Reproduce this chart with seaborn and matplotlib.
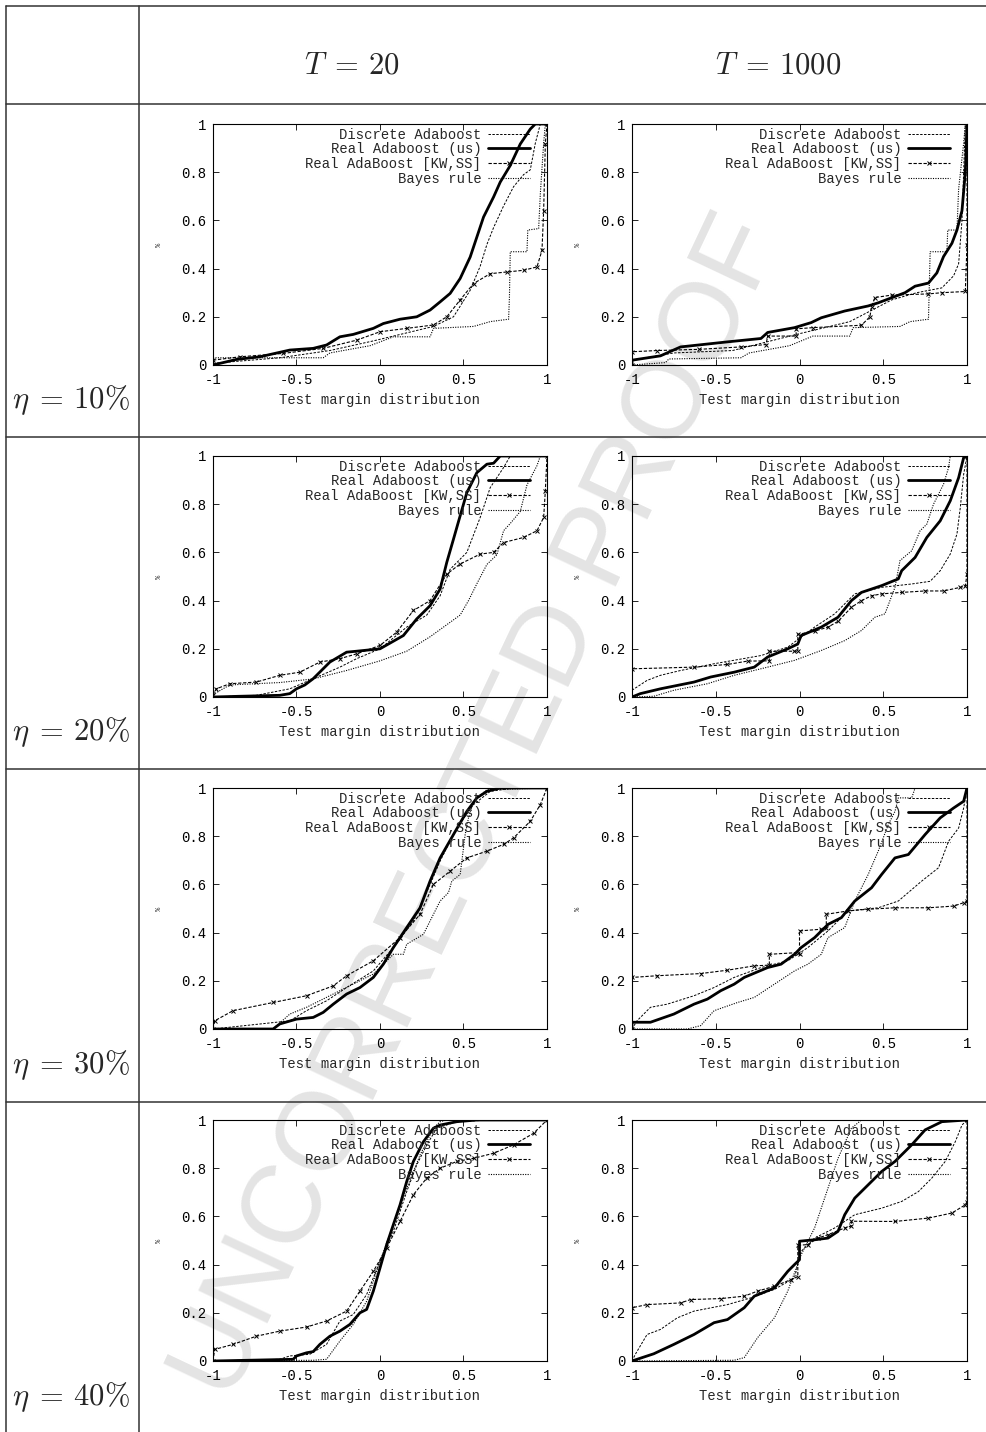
import numpy as np
import pandas as pd
import matplotlib
matplotlib.use('Agg')
import matplotlib.pyplot as plt
from matplotlib.lines import Line2D
import seaborn as sns

# Breakpoints (margin, cumulative fraction).
# naming: <curve><T>_<noise>; d = Discrete Adaboost, r = Real Adaboost (us),
# k = Real AdaBoost [KW,SS], b = Bayes rule

# T = 20, eta = 10%
d20_10 = [(-1, 0.007), (-0.6, 0.03), (-0.3, 0.06), (-0.04, 0.10), (0.2, 0.14), (0.32, 0.16), (0.44, 0.2),
          (0.54, 0.31), (0.60, 0.41), (0.64, 0.50), (0.68, 0.57), (0.74, 0.66), (0.80, 0.74), (0.86, 0.79),
          (0.90, 0.81), (0.93, 0.92), (0.96, 1.0), (1, 1)]
r20_10 = [(-1, 0), (-0.86, 0.023), (-0.72, 0.034), (-0.54, 0.062), (-0.40, 0.069), (-0.32, 0.083), (-0.24, 0.117),
          (-0.16, 0.127), (-0.04, 0.152), (0.02, 0.172), (0.12, 0.19), (0.22, 0.2), (0.30, 0.228), (0.36, 0.262),
          (0.42, 0.297), (0.48, 0.359), (0.54, 0.448), (0.58, 0.531), (0.62, 0.614), (0.68, 0.697), (0.72, 0.759),
          (0.78, 0.828), (0.84, 0.917), (0.90, 0.979), (0.93, 1.0), (1, 1)]
k20_10 = [(-1, 0.02), (-0.84, 0.034), (-0.58, 0.048), (-0.34, 0.069), (-0.14, 0.103), (0, 0.138), (0.16, 0.152),
          (0.32, 0.166), (0.40, 0.20), (0.48, 0.27), (0.56, 0.338), (0.66, 0.379), (0.76, 0.386), (0.86, 0.393),
          (0.94, 0.407), (0.97, 0.476), (0.98, 0.641), (0.99, 0.917), (1, 1)]
b20_10 = [(-1, 0.03), (-0.34, 0.03), (-0.3, 0.05), (-0.06, 0.08), (0.08, 0.117), (0.3, 0.117), (0.32, 0.152),
          (0.56, 0.16), (0.66, 0.18), (0.77, 0.19), (0.775, 0.28), (0.78, 0.47), (0.88, 0.47), (0.885, 0.56),
          (0.95, 0.566), (0.96, 0.71), (0.98, 0.92), (0.99, 1), (1, 1)]

# T = 1000, eta = 10%
d1k_10 = [(-1, 0.02), (-0.75, 0.05), (-0.4, 0.06), (0, 0.13), (0.3, 0.18), (0.55, 0.27), (0.7, 0.3), (0.85, 0.32),
          (0.92, 0.37), (0.95, 0.42), (0.97, 0.6), (0.98, 0.8), (0.99, 1), (1, 1)]
r1k_10 = [(-1, 0), (-1, 0.02), (-0.83, 0.038), (-0.71, 0.075), (-0.43, 0.096), (-0.23, 0.11), (-0.19, 0.135),
          (-0.03, 0.155), (0.07, 0.176), (0.13, 0.196), (0.27, 0.224), (0.41, 0.245), (0.47, 0.258), (0.55, 0.279),
          (0.63, 0.30), (0.69, 0.327), (0.77, 0.34), (0.82, 0.382), (0.86, 0.45), (0.91, 0.505), (0.94, 0.56),
          (0.97, 0.64), (0.99, 0.8), (1, 1)]
k1k_10 = [(-1, 0), (-1, 0.055), (-0.85, 0.06), (-0.6, 0.065), (-0.35, 0.075), (-0.2, 0.085), (-0.19, 0.12),
          (-0.02, 0.12), (-0.02, 0.15), (0.08, 0.155), (0.37, 0.165), (0.42, 0.2), (0.43, 0.24), (0.45, 0.28),
          (0.55, 0.29), (0.77, 0.295), (0.85, 0.30), (0.99, 0.305), (1, 0.5), (1, 1)]
b1k_10 = [(-1, 0), (-0.8, 0.01), (-0.78, 0.025), (-0.35, 0.03), (-0.3, 0.05), (-0.06, 0.08), (0.08, 0.12),
          (0.3, 0.12), (0.32, 0.155), (0.6, 0.16), (0.66, 0.18), (0.77, 0.19), (0.78, 0.47), (0.88, 0.47),
          (0.885, 0.56), (0.94, 0.56), (0.95, 0.73), (0.98, 0.92), (0.99, 1), (1, 1)]

# T = 20, eta = 20%
d20_20 = [(-1, 0), (-0.74, 0.007), (-0.54, 0.034), (-0.4, 0.076), (-0.24, 0.124), (-0.14, 0.159), (0, 0.2),
          (0.16, 0.29), (0.28, 0.34), (0.36, 0.42), (0.42, 0.53), (0.52, 0.6), (0.6, 0.745), (0.66, 0.869),
          (0.74, 0.952), (0.78, 1.0), (1, 1)]
r20_20 = [(-1, 0), (-0.84, 0.003), (-0.6, 0.007), (-0.54, 0.014), (-0.5, 0.034), (-0.45, 0.05), (-0.40, 0.076),
          (-0.30, 0.145), (-0.20, 0.186), (-0.14, 0.19), (0.0, 0.2), (0.14, 0.255), (0.22, 0.324), (0.30, 0.379),
          (0.36, 0.448), (0.40, 0.559), (0.44, 0.655), (0.48, 0.752), (0.52, 0.848), (0.58, 0.931), (0.64, 0.966),
          (0.68, 0.97), (0.72, 1.0), (1, 1)]
k20_20 = [(-1, 0.007), (-0.98, 0.034), (-0.9, 0.055), (-0.74, 0.062), (-0.6, 0.09), (-0.48, 0.103), (-0.36, 0.145),
          (-0.24, 0.159), (-0.14, 0.179), (0, 0.214), (0.1, 0.269), (0.2, 0.359), (0.3, 0.4), (0.4, 0.51),
          (0.48, 0.552), (0.6, 0.593), (0.68, 0.6), (0.74, 0.641), (0.86, 0.662), (0.94, 0.69), (0.98, 0.745),
          (0.99, 0.855), (1, 1)]
b20_20 = [(-1, 0.01), (-0.9, 0.05), (-0.6, 0.06), (-0.4, 0.075), (-0.2, 0.11), (0, 0.15), (0.16, 0.19), (0.3, 0.25),
          (0.4, 0.30), (0.48, 0.34), (0.53, 0.4), (0.58, 0.47), (0.64, 0.55), (0.7, 0.59), (0.74, 0.69), (0.78, 0.72),
          (0.84, 0.77), (0.88, 0.88), (0.94, 0.96), (0.96, 1.0), (1, 1)]

# T = 1000, eta = 20%
d1k_20 = [(-1, 0.028), (-0.91, 0.069), (-0.83, 0.09), (-0.71, 0.11), (-0.51, 0.138), (-0.23, 0.172), (-0.07, 0.207),
          (0.09, 0.29), (0.21, 0.345), (0.33, 0.428), (0.49, 0.455), (0.67, 0.469), (0.78, 0.48), (0.84, 0.524),
          (0.9, 0.593), (0.94, 0.676), (0.96, 0.786), (0.98, 0.924), (1, 1)]
r1k_20 = [(-1, 0), (-0.95, 0.014), (-0.83, 0.034), (-0.63, 0.062), (-0.53, 0.083), (-0.39, 0.103), (-0.27, 0.124),
          (-0.19, 0.166), (-0.07, 0.2), (-0.01, 0.22), (0.01, 0.255), (0.13, 0.29), (0.23, 0.331), (0.31, 0.4),
          (0.37, 0.434), (0.49, 0.462), (0.59, 0.49), (0.61, 0.524), (0.69, 0.579), (0.76, 0.662), (0.84, 0.731),
          (0.9, 0.814), (0.95, 0.91), (0.98, 0.993), (1, 1)]
k1k_20 = [(-1, 0), (-1, 0.117), (-0.63, 0.124), (-0.43, 0.135), (-0.31, 0.149), (-0.18, 0.15), (-0.18, 0.19),
          (-0.03, 0.19), (-0.01, 0.19), (-0.01, 0.26), (0.09, 0.273), (0.17, 0.29), (0.23, 0.314), (0.31, 0.372),
          (0.37, 0.4), (0.43, 0.42), (0.49, 0.428), (0.61, 0.434), (0.75, 0.44), (0.86, 0.44), (0.96, 0.455),
          (0.99, 0.46), (1, 0.51), (1, 1)]
b1k_20 = [(-1, 0), (-0.87, 0.003), (-0.75, 0.028), (-0.55, 0.055), (-0.39, 0.09), (-0.19, 0.124), (-0.03, 0.152),
          (0.13, 0.193), (0.27, 0.234), (0.37, 0.276), (0.45, 0.331), (0.51, 0.345), (0.54, 0.4), (0.57, 0.455),
          (0.6, 0.566), (0.67, 0.607), (0.72, 0.69), (0.76, 0.717), (0.8, 0.8), (0.86, 0.883), (0.89, 0.952),
          (0.9, 1.0), (1, 1)]

# T = 20, eta = 30%
d20_30 = [(-1, 0), (-0.54, 0.034), (-0.44, 0.076), (-0.32, 0.117), (-0.2, 0.172), (-0.04, 0.241), (0.08, 0.338),
          (0.2, 0.448), (0.3, 0.6), (0.36, 0.697), (0.46, 0.834), (0.56, 0.931), (0.66, 0.986), (0.8, 1.0), (1, 1)]
r20_30 = [(-1, 0), (-0.64, 0), (-0.6, 0.021), (-0.5, 0.041), (-0.4, 0.048), (-0.34, 0.069), (-0.28, 0.103),
          (-0.2, 0.145), (-0.12, 0.172), (-0.04, 0.214), (0.02, 0.269), (0.08, 0.338), (0.16, 0.421), (0.24, 0.503),
          (0.3, 0.614), (0.36, 0.71), (0.44, 0.807), (0.52, 0.903), (0.58, 0.959), (0.64, 0.986), (0.72, 1.0), (1, 1)]
k20_30 = [(-1, 0), (-0.99, 0.034), (-0.88, 0.076), (-0.64, 0.11), (-0.44, 0.138), (-0.28, 0.179), (-0.2, 0.221),
          (-0.04, 0.283), (0.12, 0.379), (0.24, 0.476), (0.32, 0.6), (0.42, 0.655), (0.52, 0.71), (0.64, 0.738),
          (0.74, 0.766), (0.8, 0.793), (0.9, 0.862), (0.96, 0.931), (1, 1)]
b20_30 = [(-1, 0), (-0.64, 0), (-0.54, 0.062), (-0.44, 0.09), (-0.24, 0.159), (-0.04, 0.228), (0.08, 0.31),
          (0.14, 0.31), (0.16, 0.352), (0.26, 0.393), (0.32, 0.476), (0.36, 0.531), (0.41, 0.566), (0.43, 0.614),
          (0.48, 0.641), (0.51, 0.807), (0.53, 0.876), (0.56, 0.945), (0.64, 0.993), (1, 1)]

# T = 1000, eta = 30%
d1k_30 = [(-1, 0), (-0.97, 0.034), (-0.89, 0.09), (-0.79, 0.103), (-0.63, 0.138), (-0.51, 0.172), (-0.39, 0.214),
          (-0.23, 0.255), (-0.07, 0.283), (0.05, 0.338), (0.17, 0.407), (0.29, 0.49), (0.47, 0.503), (0.59, 0.531),
          (0.73, 0.614), (0.83, 0.669), (0.89, 0.779), (0.95, 0.834), (0.98, 0.917), (1, 1)]
r1k_30 = [(-1, 0), (-1, 0.028), (-0.89, 0.028), (-0.75, 0.062), (-0.63, 0.103), (-0.55, 0.124), (-0.47, 0.159),
          (-0.39, 0.186), (-0.33, 0.214), (-0.19, 0.255), (-0.11, 0.269), (-0.03, 0.31), (0.01, 0.338), (0.09, 0.379),
          (0.17, 0.434), (0.25, 0.462), (0.33, 0.531), (0.43, 0.586), (0.49, 0.641), (0.57, 0.71), (0.65, 0.724),
          (0.75, 0.807), (0.84, 0.876), (0.92, 0.917), (0.98, 0.945), (1, 1)]
k1k_30 = [(-1, 0), (-1, 0.214), (-0.85, 0.221), (-0.59, 0.23), (-0.43, 0.244), (-0.27, 0.262), (-0.18, 0.265),
          (-0.18, 0.31), (-0.01, 0.317), (0, 0.31), (0, 0.407), (0.13, 0.414), (0.16, 0.42), (0.16, 0.476),
          (0.29, 0.49), (0.41, 0.497), (0.57, 0.503), (0.77, 0.503), (0.92, 0.51), (0.98, 0.524), (1, 0.53), (1, 1)]
b1k_30 = [(-1, 0), (-0.67, 0), (-0.59, 0.014), (-0.51, 0.076), (-0.37, 0.11), (-0.27, 0.131), (-0.15, 0.186),
          (-0.03, 0.241), (0.05, 0.269), (0.13, 0.31), (0.17, 0.379), (0.27, 0.421), (0.33, 0.531), (0.41, 0.641),
          (0.47, 0.738), (0.53, 0.848), (0.57, 0.903), (0.59, 0.959), (0.67, 0.959), (0.69, 1.0), (1, 1)]

# T = 20, eta = 40%
d20_40 = [(-1, 0), (-0.6, 0.007), (-0.54, 0.021), (-0.42, 0.028), (-0.32, 0.069), (-0.24, 0.166), (-0.16, 0.193),
          (-0.08, 0.276), (0, 0.414), (0.08, 0.538), (0.16, 0.703), (0.22, 0.814), (0.28, 0.897), (0.34, 0.966),
          (0.46, 0.993), (0.66, 1), (1, 1)]
r20_40 = [(-1, 0), (-0.52, 0.007), (-0.5, 0.021), (-0.44, 0.034), (-0.4, 0.039), (-0.36, 0.069), (-0.3, 0.103),
          (-0.24, 0.124), (-0.18, 0.152), (-0.12, 0.2), (-0.08, 0.214), (-0.04, 0.29), (0, 0.386), (0.04, 0.483),
          (0.08, 0.566), (0.12, 0.648), (0.16, 0.745), (0.2, 0.828), (0.26, 0.91), (0.32, 0.966), (0.36, 0.979),
          (0.46, 0.993), (0.58, 1.0), (1, 1)]
k20_40 = [(-1, 0), (-0.99, 0.048), (-0.88, 0.069), (-0.74, 0.103), (-0.6, 0.124), (-0.44, 0.141), (-0.32, 0.166),
          (-0.2, 0.207), (-0.12, 0.29), (-0.04, 0.372), (0.04, 0.469), (0.12, 0.579), (0.2, 0.69), (0.28, 0.759),
          (0.36, 0.8), (0.46, 0.828), (0.56, 0.841), (0.68, 0.862), (0.8, 0.897), (0.92, 0.945), (1, 1)]
b20_40 = [(-1, 0), (-0.4, 0.003), (-0.32, 0.007), (-0.24, 0.083), (-0.16, 0.152), (-0.08, 0.248), (0, 0.414),
          (0.08, 0.566), (0.16, 0.717), (0.24, 0.855), (0.32, 0.966), (0.36, 0.993), (0.4, 1.0), (1, 1)]

# T = 1000, eta = 40%
d1k_40 = [(-1, 0), (-0.98, 0.028), (-0.91, 0.11), (-0.83, 0.131), (-0.73, 0.179), (-0.63, 0.207), (-0.43, 0.234),
          (-0.29, 0.262), (-0.15, 0.297), (-0.03, 0.345), (0.01, 0.455), (0.09, 0.51), (0.21, 0.552), (0.33, 0.607),
          (0.49, 0.634), (0.61, 0.662), (0.71, 0.703), (0.79, 0.759), (0.87, 0.828), (0.93, 0.91), (0.97, 0.979),
          (1, 1)]
r1k_40 = [(-1, 0), (-0.97, 0.007), (-0.87, 0.03), (-0.75, 0.069), (-0.63, 0.11), (-0.51, 0.159), (-0.43, 0.172),
          (-0.33, 0.221), (-0.27, 0.269), (-0.15, 0.303), (-0.07, 0.372), (-0.03, 0.4), (0, 0.42), (0, 0.497),
          (0.09, 0.503), (0.17, 0.51), (0.23, 0.538), (0.27, 0.607), (0.33, 0.676), (0.41, 0.731), (0.49, 0.786),
          (0.57, 0.828), (0.67, 0.897), (0.75, 0.959), (0.85, 0.993), (1, 1)]
k1k_40 = [(-1, 0), (-1, 0.221), (-0.91, 0.234), (-0.71, 0.241), (-0.65, 0.255), (-0.47, 0.259), (-0.33, 0.269),
          (-0.25, 0.29), (-0.15, 0.31), (-0.05, 0.338), (-0.01, 0.35), (-0.01, 0.48), (0.05, 0.483), (0.11, 0.51),
          (0.17, 0.524), (0.27, 0.552), (0.31, 0.56), (0.31, 0.58), (0.57, 0.579), (0.77, 0.593), (0.91, 0.614),
          (0.99, 0.648), (1, 0.66), (1, 1)]
b1k_40 = [(-1, 0), (-0.39, 0.003), (-0.33, 0.014), (-0.25, 0.097), (-0.15, 0.179), (-0.07, 0.29), (0.01, 0.441),
          (0.09, 0.552), (0.17, 0.717), (0.23, 0.841), (0.31, 0.966), (0.37, 1.0), (1, 1)]

series_names = ['Discrete Adaboost', 'Real Adaboost (us)', 'Real AdaBoost [KW,SS]', 'Bayes rule']
col_titles = [r'$T\;=\,20$', r'$T\;=\,1000$']
row_titles = [r'$\eta\;=\,10\%$', r'$\eta\;=\,20\%$', r'$\eta\;=\,30\%$', r'$\eta\;=\,40\%$']
xtick_vals = [-1, -0.5, 0, 0.5, 1]
xtick_labels = ['-1', '-0.5', '0', '0.5', '1']
ytick_vals = [0, 0.2, 0.4, 0.6, 0.8, 1]
ytick_labels = ['0', '0.2', '0.4', '0.6', '0.8', '1']

grid = [
    [[d20_10, r20_10, k20_10, b20_10], [d1k_10, r1k_10, k1k_10, b1k_10]],
    [[d20_20, r20_20, k20_20, b20_20], [d1k_20, r1k_20, k1k_20, b1k_20]],
    [[d20_30, r20_30, k20_30, b20_30], [d1k_30, r1k_30, k1k_30, b1k_30]],
    [[d20_40, r20_40, k20_40, b20_40], [d1k_40, r1k_40, k1k_40, b1k_40]],
]

# gnuplot-like line styles
styles = [
    dict(color='black', linewidth=0.7, linestyle=(0, (2.5, 1.5))),
    dict(color='black', linewidth=2.0, linestyle='-'),
    dict(color='black', linewidth=0.8, linestyle=(0, (3, 1.5)), marker='x', markersize=3.5,
         markeredgewidth=0.7, markeredgecolor='black'),
    dict(color='black', linewidth=0.8, linestyle=(0, (1, 1.2))),
]

sns.set_style('ticks')
plt.rcParams['mathtext.fontset'] = 'cm'
plt.rcParams['font.family'] = ['Liberation Mono', 'DejaVu Sans']

W, H = 987, 1432
fig = plt.figure(figsize=(W / 100, H / 100), dpi=100)

def fx(px):
    return px / W

def fy(py):
    return 1 - py / H

# watermark, drawn behind everything
fig.text(fx(480), fy(808), 'UNCORRECTED PROOF', rotation=64.7, rotation_mode='anchor',
         ha='center', va='center', fontsize=80, color='#e4e4e4', family='Liberation Sans', zorder=-5)

# table rules
rule = dict(color='#333333', linewidth=1.1, transform=fig.transFigure)
for py in [6, 104, 437, 769, 1102]:
    fig.add_artist(Line2D([fx(6), fx(987)], [fy(py), fy(py)], **rule))
for px in [6, 139]:
    fig.add_artist(Line2D([fx(px), fx(px)], [fy(6), fy(1432)], **rule))

# header and row labels
for title, cx in zip(col_titles, [352, 778]):
    fig.text(fx(cx), fy(65), title, ha='center', va='center', fontsize=22)
for title, by in zip(row_titles, [408, 740, 1073, 1405]):
    fig.text(fx(12), fy(by), title, ha='left', va='baseline', fontsize=22)

col_left = [213, 632]
col_width = [334, 335]
row_top = [124, 456, 788, 1120]
row_height = 241

for i, row in enumerate(grid):
    for j, curves in enumerate(row):
        ax = fig.add_axes([fx(col_left[j]), fy(row_top[i] + row_height),
                           col_width[j] / W, row_height / H])
        ax.set_facecolor('none')
        for name, pts, st in zip(series_names, curves, styles):
            df = pd.DataFrame(pts, columns=['margin', 'frac'])
            sns.lineplot(data=df, x='margin', y='frac', sort=False, estimator=None,
                         ax=ax, label=name, **st)
        ax.set_xlim(-1, 1)
        ax.set_ylim(0, 1)
        ax.set_xticks(xtick_vals)
        ax.set_xticklabels(xtick_labels)
        ax.set_yticks(ytick_vals)
        ax.set_yticklabels(ytick_labels)
        ax.tick_params(direction='in', top=True, right=True, length=4, width=0.6,
                       labelsize=10, colors='black')
        ax.tick_params(axis='x', pad=6)
        ax.tick_params(axis='y', pad=5)
        for sp in ax.spines.values():
            sp.set_visible(True)
            sp.set_linewidth(0.8)
            sp.set_color('black')
        ax.set_xlabel('Test margin distribution', fontsize=10, labelpad=4)
        ax.set_ylabel('%', fontsize=5, labelpad=13)
        ax.legend(loc='upper right', bbox_to_anchor=(0.949, 0.985), frameon=False,
                  markerfirst=False, fontsize=10, handlelength=3.0, handletextpad=0.5,
                  labelspacing=0.05, borderaxespad=0, borderpad=0)

fig.savefig('out.png', dpi=100)
plt.close(fig)
